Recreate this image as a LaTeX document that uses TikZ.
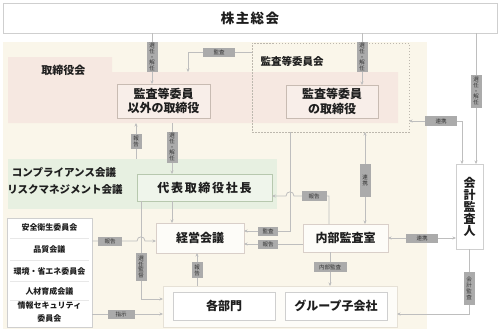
\documentclass[tikz,border=0pt]{standalone}
\usepackage{fontspec}
\setmainfont{Noto Sans CJK JP}
\usetikzlibrary{arrows.meta,calc}
\definecolor{beigebg}{HTML}{FAF6EA}
\definecolor{pinkbg}{HTML}{F6E8E1}
\definecolor{pinkbox}{HTML}{F8EEE9}
\definecolor{pinkline}{HTML}{C8BBB2}
\definecolor{greenbg}{HTML}{E7F0E1}
\definecolor{greenbox}{HTML}{EFF5EB}
\definecolor{greenline}{HTML}{B7C8AE}
\definecolor{conncol}{HTML}{BEBEBE}
\definecolor{tagcol}{HTML}{ABABAB}
\definecolor{tagtext}{HTML}{333333}
\definecolor{boxline}{HTML}{CFCFCF}
\definecolor{textcol}{HTML}{1E1E1E}
\definecolor{lowerbg}{HTML}{FDFCF8}
\definecolor{lowerline}{HTML}{E6E1D6}
\definecolor{dashcol}{HTML}{BDB8AE}
\definecolor{sepcol}{HTML}{E8E8E8}
\tikzset{
  conn/.style={draw=conncol, line width=0.8pt, -{Stealth[length=3.5pt,width=3pt]}},
  conntwo/.style={draw=conncol, line width=0.8pt, {Stealth[length=3.5pt,width=3pt]}-{Stealth[length=3.5pt,width=3pt]}},
  htag/.style={fill=tagcol, text=tagtext, font=\fontsize{5.5}{6}\selectfont, minimum height=9pt, inner sep=0pt},
  vtag/.style={fill=tagcol, text=tagtext, font=\fontsize{5.5}{5.9}\selectfont, align=center, minimum width=11pt, inner sep=0pt},
  box/.style={draw=boxline, line width=0.8pt, fill=white, font=\bfseries\fontsize{12}{14.5}\selectfont, text=textcol, align=center, inner sep=0pt},
  lbl/.style={font=\bfseries\fontsize{10.5}{12}\selectfont, text=textcol, inner sep=0pt},
  listtxt/.style={font=\bfseries\fontsize{8}{12.5}\selectfont, text=textcol, align=center, inner sep=0pt},
  area/.style={inner sep=0pt, outer sep=0pt},
}
\begin{document}
\begin{tikzpicture}[x=1pt,y=-1pt, every node/.append style={outer sep=0pt}]
\useasboundingbox (0,0) rectangle (499,333);
\fill[white] (0,0) rectangle (499,333);

% top box
\node[box, minimum width=494pt, minimum height=30pt, font=\bfseries\fontsize{13.5}{16}\selectfont] (top) at (250,18) {\addfontfeature{LetterSpace=10}株主総会};

% beige area
\node[area, fill=beigebg, minimum width=424pt, minimum height=287pt] (bg) at (215,185.5) {};

% pink board band with tab
\fill[pinkbg] (8,57) -- (112,57) -- (112,72) -- (398,72) -- (398,123) -- (8,123) -- cycle;
\coordinate (pinktop) at (250,72);
\coordinate (pinkbot) at (250,123);
\node[lbl, font=\bfseries\fontsize{11}{13}\selectfont] (bodlabel) at (63.5,70) {取締役会};

% audit committee dashed
\node[area, draw=dashcol, dash pattern=on 1.5pt off 1.5pt, line width=0.6pt, minimum width=157pt, minimum height=89pt] (acb) at (330.5,87.5) {};
\node[lbl] (acblabel) at (292,61) {監査等委員会};

\node[box, fill=pinkbox, draw=pinkline, minimum width=93pt, minimum height=34pt] (dir1) at (163.5,101) {監査等委員\\以外の取締役};
\node[box, fill=pinkbox, draw=pinkline, minimum width=92pt, minimum height=33pt] (dir2) at (332,101.5) {監査等委員\\の取締役};

% green band
\node[area, fill=greenbg, minimum width=269pt, minimum height=50pt] (gband) at (142.5,184) {};
\node[lbl] (comp) at (64,172) {コンプライアンス会議};
\node[lbl] (risk) at (65,190) {リスクマネジメント会議};
\node[box, fill=greenbox, draw=greenline, minimum width=135pt, minimum height=27pt] (ceo) at (204.5,187.5) {\addfontfeature{LetterSpace=14}代表取締役社長};

% middle boxes
\node[box, fill=lowerbg, draw=pinkline!70, minimum width=88pt, minimum height=30pt] (mgmt) at (200,238) {経営会議};
\node[box, fill=lowerbg, draw=pinkline!70, minimum width=85pt, minimum height=28pt] (iad) at (345.5,238) {内部監査室};
\node[box, minimum width=27pt, minimum height=85pt, font=\bfseries\fontsize{12}{12}\selectfont] (aud) at (469.5,206.5) {会\\計\\監\\査\\人};

% list box
\node[area, draw=boxline, line width=0.8pt, fill=white, minimum width=85pt, minimum height=109pt] (list) at (49.5,272.5) {};
\draw[sepcol, line width=0.5pt] (10,238.5) -- (89,238.5);
\draw[sepcol, line width=0.5pt] (10,260) -- (89,260);
\draw[sepcol, line width=0.5pt] (10,281) -- (89,281);
\draw[sepcol, line width=0.5pt] (10,300.5) -- (89,300.5);
\node[listtxt] (l1) at (49.5,227) {安全衛生委員会};
\node[listtxt] (l2) at (49.5,249) {品質会議};
\node[listtxt] (l3) at (49.5,271) {環境・省エネ委員会};
\node[listtxt] (l4) at (49.5,291) {人材育成会議};
\node[listtxt] (l5) at (49.5,312) {情報セキュリティ\\委員会};

% lower region
\node[area, fill=lowerbg, draw=lowerline, line width=0.8pt, minimum width=234pt, minimum height=41pt] (lower) at (280,306.5) {};
\node[box, minimum width=102pt, minimum height=28pt] (dept) at (224,306) {各部門};
\node[box, minimum width=102pt, minimum height=28pt] (grp) at (336,306) {グループ子会社};

% tag coordinates
\coordinate (k1) at (152,57);
\coordinate (k2) at (362,57);
\coordinate (k3) at (476,91);
\coordinate (k4) at (219,52);
\coordinate (b4) at (188,52);
\coordinate (k5) at (441,121);
\coordinate (b5) at (462,121);
\coordinate (k6) at (136,141);
\coordinate (k7) at (172,147);
\coordinate (k9) at (141,267);
\coordinate (b9) at (141,299);
\coordinate (k10) at (110,241);
\coordinate (k11) at (121,314);
\coordinate (k12) at (197,270);
\coordinate (k13) at (268,231);
\coordinate (b13) at (290,231);
\coordinate (k14) at (268,244);
\coordinate (k15) at (314,196);
\coordinate (b15) at (329,196);
\coordinate (k16) at (365,180);
\coordinate (k17) at (422,238);
\coordinate (k18) at (330,267);
\coordinate (k19) at (469,288);
\coordinate (b19) at (469,314);

% connectors
\draw[conn] (top.south -| k1) -- (dir1.north -| k1);
\draw[conn] (top.south -| k2) -- (dir2.north -| k2);
\draw[conn] (top.south -| k3) -- (aud.north -| k3);
\draw[conn] (acb.west |- k4) -- (b4) -- (pinktop -| b4);
\draw[conntwo] (acb.east |- k5) -- (b5) -- (aud.north -| b5);
\draw[conn] (gband.north -| k6) -- (pinkbot -| k6);
\draw[conn] (pinkbot -| k7) -- (ceo.north -| k7);
\draw[conn] (ceo.south -| k7) -- (mgmt.north -| k7);
\draw[conn] (ceo.south -| k9) -- (b9) -- (lower.west |- b9);
\draw[conn] (list.east |- k10) -- (137,241) .. controls (137,235.5) and (145,235.5) .. (145,241) -- (mgmt.west |- k10);
\draw[conn] (list.east |- k11) -- (lower.west |- k11);
\draw[conn] (lower.north -| k12) -- (mgmt.south -| k12);
\draw[conn] (acb.south -| b13) -- (b13) -- (mgmt.east |- b13);
\draw[conn] (iad.west |- k14) -- (mgmt.east |- k14);
\draw[conn] (iad.north -| b15) -- (b15) -- (294,196) .. controls (294,190.5) and (286,190.5) .. (286,196) -- (ceo.east |- b15);
\draw[conntwo] (acb.south -| k16) -- (iad.north -| k16);
\draw[conntwo] (iad.east |- k17) -- (aud.west |- k17);
\draw[conn] (iad.south -| k18) -- (lower.north -| k18);
\draw[conn] (aud.south -| k19) -- (b19) -- (lower.east |- b19);

% tags
\node[vtag, minimum height=30pt] (t1) at (k1) {選\\任\\・\\解\\任};
\node[vtag, minimum height=30pt] (t2) at (k2) {選\\任\\・\\解\\任};
\node[vtag, minimum height=33pt] (t3) at (k3) {選\\任\\・\\解\\任};
\node[htag, minimum width=32pt] (t4) at (k4) {監査};
\node[htag, minimum width=32pt, minimum height=10pt] (t5) at (k5) {連携};
\node[vtag, minimum height=15pt] (t6) at (k6) {報\\告};
\node[vtag, minimum height=31pt] (t7) at (k7) {選\\任\\・\\解\\任};
\node[vtag, minimum height=28pt] (t9) at (k9) {選\\任\\監\\督};
\node[htag, minimum width=24pt] (t10) at (k10) {報告};
\node[htag, minimum width=27pt] (t11) at (k11) {指示};
\node[vtag, minimum height=16pt] (t12) at (k12) {報\\告};
\node[htag, minimum width=20pt] (t13) at (k13) {監査};
\node[htag, minimum width=20pt] (t14) at (k14) {報告};
\node[htag, minimum width=25pt, minimum height=10pt] (t15) at (k15) {報告};
\node[vtag, minimum height=33pt] (t16) at (k16) {連\\携};
\node[htag, minimum width=32pt] (t17) at (k17) {連携};
\node[htag, minimum width=33pt, minimum height=10pt] (t18) at (k18) {内部監査};
\node[vtag, minimum height=33pt] (t19) at (k19) {会\\計\\監\\査};
\end{tikzpicture}
\end{document}
